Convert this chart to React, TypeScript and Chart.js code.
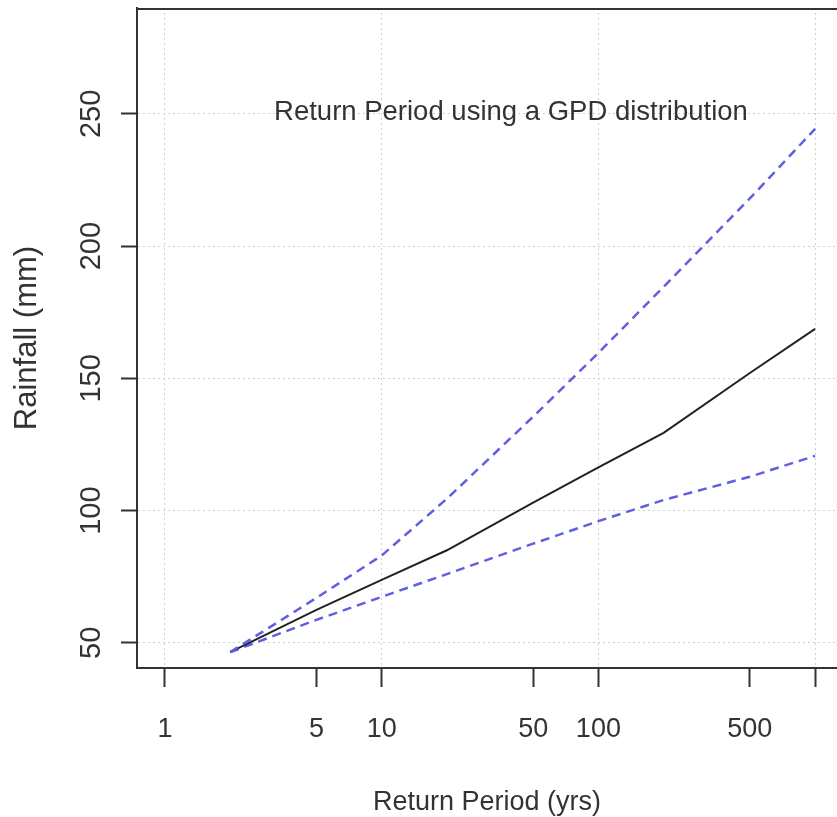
import React, { useEffect, useRef } from 'react';
import { Chart, registerables } from 'chart.js';

Chart.register(...registerables);

// Return periods (years) at which the curves are evaluated
const returnPeriods = [2, 5, 10, 20, 50, 100, 200, 500, 1000];
// Fitted return level (mm)
const fittedLevel = [46.5, 62.5, 73.8, 85, 103, 116.3, 129.4, 152, 168.7];
// Upper confidence bound (mm)
const upperBound = [46.5, 67, 83, 104.5, 135.5, 159.6, 184.6, 218, 244.3];
// Lower confidence bound (mm)
const lowerBound = [46.5, 58.7, 67.4, 76, 87.5, 96, 104, 112.8, 120.7];

const xTickValues = [1, 5, 10, 50, 100, 500, 1000];
const xTickLabels = ['1', '5', '10', '50', '100', '500', ''];
const xGridValues = [1, 10, 100, 1000];
const yTickValues = [50, 100, 150, 200, 250];
const xRange = [0.743, 1262];
const yRange = [40.5, 290];

const annotationText = 'Return Period using a GPD distribution';
const annotationX = 39.5;
const annotationY = 250.5;
const xTitle = 'Return Period (yrs)';
const yTitle = 'Rainfall (mm)';

const FAMILY = '"Liberation Sans", Arial, Helvetica, sans-serif';
const TEXT = '#333333';
const AXIS = '#333333';
const GRID = '#cfcfcf';
const BLUE = 'rgb(95,95,225)';

export default function App() {
  const ref = useRef<HTMLCanvasElement | null>(null);

  useEffect(() => {
    document.body.style.margin = '0';
    const canvas = ref.current;
    if (!canvas) return;
    const pts = (ys: number[]) => returnPeriods.map((x, i) => ({ x, y: ys[i] }));

    const boxPlugin = {
      id: 'boxAndText',
      afterDraw(chart: any) {
        const { ctx, chartArea } = chart;
        ctx.save();
        ctx.strokeStyle = AXIS;
        ctx.lineWidth = 2;
        ctx.beginPath();
        ctx.moveTo(chartArea.left - 1, chartArea.top + 1);
        ctx.lineTo(chartArea.right, chartArea.top + 1);
        ctx.stroke();
        const xs = chart.scales.x;
        const ys = chart.scales.y;
        ctx.font = `27.5px ${FAMILY}`;
        ctx.fillStyle = TEXT;
        ctx.textAlign = 'center';
        ctx.textBaseline = 'middle';
        ctx.fillText(annotationText, xs.getPixelForValue(annotationX), ys.getPixelForValue(annotationY));
        ctx.restore();
      },
    };

    const chart = new Chart(canvas, {
      type: 'line',
      data: {
        datasets: [
          {
            label: 'upper',
            data: pts(upperBound),
            borderColor: BLUE,
            borderWidth: 2.5,
            borderDash: [9, 6],
            pointRadius: 0,
            fill: false,
            tension: 0,
          },
          {
            label: 'fitted',
            data: pts(fittedLevel),
            borderColor: '#222222',
            borderWidth: 2,
            pointRadius: 0,
            fill: false,
            tension: 0,
          },
          {
            label: 'lower',
            data: pts(lowerBound),
            borderColor: BLUE,
            borderWidth: 2.5,
            borderDash: [9, 6],
            pointRadius: 0,
            fill: false,
            tension: 0,
          },
        ],
      },
      options: {
        animation: false,
        responsive: false,
        maintainAspectRatio: false,
        layout: { padding: { top: 8, left: 0, right: 0, bottom: 0 } },
        plugins: { legend: { display: false }, tooltip: { enabled: false } },
        scales: {
          x: {
            type: 'logarithmic',
            position: 'bottom',
            min: xRange[0],
            max: xRange[1],
            afterDataLimits: (s: any) => {
              s.min = xRange[0];
              s.max = xRange[1];
            },
            afterBuildTicks: (s: any) => {
              s.ticks = xTickValues.map((v) => ({ value: v }));
              s.min = xRange[0];
              s.max = xRange[1];
            },
            afterFit: (s: any) => {
              s.height = 149;
              s.paddingLeft = 0;
              s.paddingRight = 0;
              s.paddingTop = 0;
              s.paddingBottom = 0;
            },
            ticks: {
              autoSkip: false,
              minRotation: 0,
              maxRotation: 0,
              padding: 26,
              color: TEXT,
              font: { family: FAMILY, size: 27 },
              callback: (_v: any, i: number) => xTickLabels[i] ?? '',
            },
            grid: {
              color: (c: any) => (c.tick && xGridValues.includes(c.tick.value) ? GRID : 'transparent'),
              lineWidth: 1,
              tickLength: 19,
              tickColor: AXIS,
              tickWidth: 2,
            },
            border: { display: true, color: AXIS, width: 2, dash: [2, 3] },
            title: {
              display: true,
              text: xTitle,
              color: TEXT,
              font: { family: FAMILY, size: 27 },
              padding: { top: 0, bottom: -2 },
            },
          },
          y: {
            type: 'linear',
            position: 'left',
            min: yRange[0],
            max: yRange[1],
            afterBuildTicks: (s: any) => {
              s.ticks = yTickValues.map((v) => ({ value: v }));
            },
            afterFit: (s: any) => {
              s.width = 137;
              s.paddingTop = 0;
              s.paddingBottom = 0;
              s.paddingLeft = 0;
              s.paddingRight = 0;
            },
            ticks: {
              minRotation: 90,
              maxRotation: 90,
              crossAlign: 'center',
              padding: 5,
              color: TEXT,
              font: { family: FAMILY, size: 29 },
            },
            grid: {
              color: GRID,
              lineWidth: 1,
              tickLength: 16,
              tickColor: AXIS,
              tickWidth: 2,
            },
            border: { display: true, color: AXIS, width: 2, dash: [2, 3] },
            title: {
              display: true,
              text: yTitle,
              color: TEXT,
              font: { family: FAMILY, size: 31 },
              padding: { top: 9, bottom: 0 },
            },
          },
        },
      },
      plugins: [boxPlugin],
    } as any);

    return () => chart.destroy();
  }, []);

  return <canvas ref={ref} width={837} height={817} style={{ display: 'block' }} />;
}
